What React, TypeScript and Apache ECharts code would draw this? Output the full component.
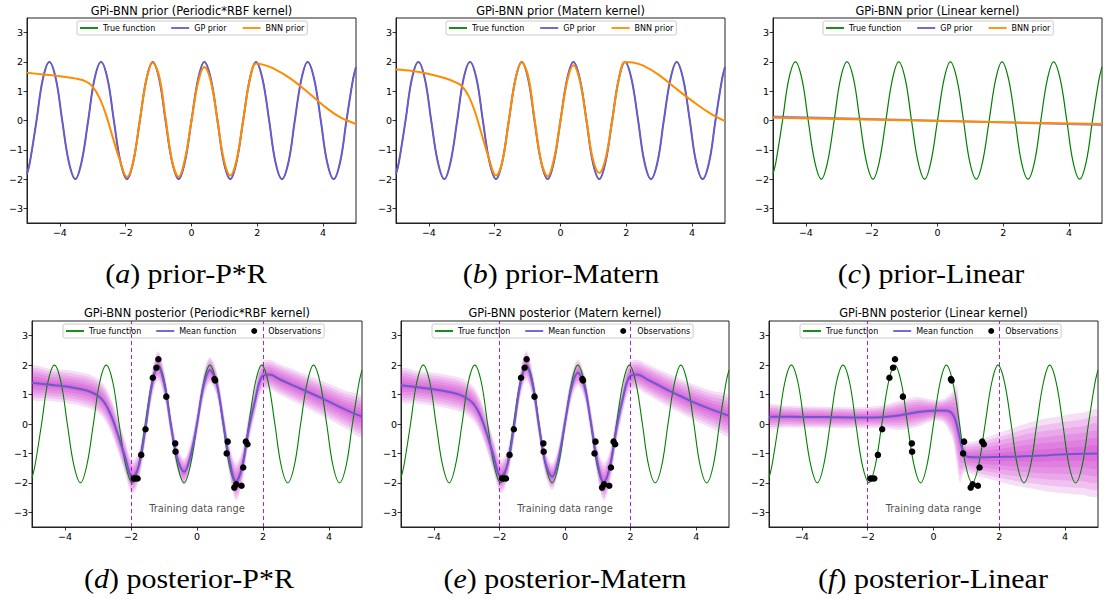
import React, { useEffect, useRef } from 'react';
import * as echarts from 'echarts';

// ---------- tick labels ----------
const xTicks = [-4, -2, 0, 2, 4];
const yTicks = [-3, -2, -1, 0, 1, 2, 3];

// ---------- true function ----------
const trueFunction = [
  [-5, -1.83], [-4.91, -1.41], [-4.71, 0], [-4.52, 1.41], [-4.32, 2], [-4.12, 1.41], [-3.93, 0], [-3.73, -1.41],
  [-3.53, -2], [-3.34, -1.41], [-3.14, 0], [-2.95, 1.41], [-2.75, 2], [-2.55, 1.41], [-2.36, 0], [-2.16, -1.41],
  [-1.96, -2], [-1.77, -1.41], [-1.57, 0], [-1.37, 1.41], [-1.18, 2], [-0.98, 1.41], [-0.79, 0], [-0.59, -1.41],
  [-0.39, -2], [-0.2, -1.41], [0, 0], [0.2, 1.41], [0.39, 2], [0.59, 1.41], [0.79, 0], [0.98, -1.41],
  [1.18, -2], [1.37, -1.41], [1.57, 0], [1.77, 1.41], [1.96, 2], [2.16, 1.41], [2.36, 0], [2.55, -1.41],
  [2.75, -2], [2.95, -1.41], [3.14, 0], [3.34, 1.41], [3.53, 2], [3.73, 1.41], [3.93, 0], [4.12, -1.41],
  [4.32, -2], [4.52, -1.41], [4.71, 0], [4.91, 1.41], [5, 1.83],
];

// GP prior samples for the periodic*RBF and Matern kernels (they sit on the true function)
const gpPriorPeriodic = trueFunction;
const gpPriorMatern = trueFunction;
const gpPriorLinear = [[-5, 0.14], [5, -0.15]];

// BNN priors
const bnnPriorPR = [
  [-5, 1.63], [-4.5, 1.57], [-4, 1.51], [-3.5, 1.43], [-3.2, 1.33], [-3, 1.15], [-2.8, 0.78], [-2.6, 0.2],
  [-2.4, -0.55], [-2.2, -1.28], [-1.96, -1.93], [-1.77, -1.4], [-1.57, 0], [-1.37, 1.4], [-1.18, 1.97],
  [-0.98, 1.5], [-0.79, 0.1], [-0.59, -1.38], [-0.39, -1.92], [-0.2, -1.32], [0, 0], [0.2, 1.3], [0.39, 1.83],
  [0.59, 1.32], [0.79, 0], [0.98, -1.32], [1.18, -1.88], [1.37, -1.35], [1.57, 0], [1.77, 1.38], [1.96, 1.95],
  [2.2, 1.9], [2.5, 1.77], [3, 1.44], [3.5, 1.0], [4, 0.52], [4.5, 0.12], [5, -0.12],
];
const bnnPriorMatern = [
  [-5, 1.74], [-4.5, 1.69], [-4, 1.59], [-3.5, 1.44], [-3.2, 1.31], [-3, 1.18], [-2.8, 0.85], [-2.6, 0.3],
  [-2.4, -0.45], [-2.2, -1.2], [-1.96, -1.88], [-1.77, -1.42], [-1.57, 0], [-1.37, 1.4], [-1.18, 1.98],
  [-0.98, 1.5], [-0.79, 0.05], [-0.59, -1.38], [-0.39, -1.9], [-0.2, -1.32], [0, 0], [0.2, 1.33], [0.39, 1.89],
  [0.59, 1.35], [0.79, 0], [0.98, -1.3], [1.18, -1.79], [1.37, -1.3], [1.57, 0], [1.77, 1.4], [1.96, 2.0],
  [2.2, 1.98], [2.5, 1.88], [3, 1.55], [3.5, 1.1], [4, 0.67], [4.5, 0.28], [5, -0.02],
];
const bnnPriorLinear = [[-5, 0.09], [5, -0.12]];

// ---------- posteriors ----------
const trainingRange = [-2, 2];
const observations = [
  [-1.92, -1.85], [-1.87, -1.85], [-1.8, -1.85], [-1.69, -1.05], [-1.56, -0.18], [-1.34, 1.57], [-1.23, 1.91],
  [-1.17, 2.2], [-0.93, 0.93], [-0.66, -0.66], [-0.65, -0.94], [0.53, 1.53], [0.55, 1.48], [0.93, -0.6],
  [0.9, -1.0], [1.13, -2.16], [1.19, -2.05], [1.35, -2.1], [1.4, -1.48], [1.48, -0.6], [1.53, -0.69],
];

const xsPost = [-5, -4.5, -4, -3.5, -3.2, -3, -2.8, -2.6, -2.4, -2.2, -1.96, -1.77, -1.57, -1.37, -1.18, -0.98,
  -0.79, -0.59, -0.39, -0.2, 0, 0.2, 0.39, 0.59, 0.79, 0.98, 1.18, 1.37, 1.57, 1.77, 1.96, 2.2, 2.5, 3, 3.5, 4, 4.5, 5];
const meanPR = [1.4, 1.34, 1.28, 1.18, 1.08, 0.96, 0.72, 0.28, -0.35, -1.05, -1.8, -1.45, -0.2, 1.3, 1.97, 1.3,
  -0.05, -1.2, -1.62, -1.1, 0.0, 1.3, 1.83, 1.4, 0.1, -1.2, -1.95, -1.45, -0.15, 0.85, 1.6, 1.68, 1.52, 1.27, 1.02, 0.76, 0.49, 0.25];
const hwPR = [0.55, 0.55, 0.56, 0.57, 0.58, 0.58, 0.58, 0.58, 0.57, 0.56, 0.58, 0.5, 0.45, 0.45, 0.5, 0.45,
  0.42, 0.42, 0.45, 0.42, 0.42, 0.42, 0.45, 0.42, 0.45, 0.5, 0.65, 0.55, 0.48, 0.48, 0.5, 0.5, 0.52, 0.55, 0.58, 0.61, 0.64, 0.67];
const meanMatern = [1.32, 1.25, 1.18, 1.08, 0.99, 0.88, 0.7, 0.33, -0.27, -1.0, -1.78, -1.45, -0.2, 1.3, 1.98, 1.3,
  -0.1, -1.35, -1.79, -1.2, 0.05, 1.25, 1.74, 1.3, 0.05, -1.25, -1.97, -1.45, -0.15, 0.9, 1.6, 1.68, 1.52, 1.23, 0.96, 0.7, 0.48, 0.28];
const hwMatern = [0.55, 0.55, 0.56, 0.57, 0.58, 0.58, 0.58, 0.58, 0.57, 0.56, 0.58, 0.5, 0.45, 0.45, 0.5, 0.45,
  0.42, 0.42, 0.45, 0.42, 0.42, 0.42, 0.45, 0.42, 0.45, 0.5, 0.65, 0.55, 0.48, 0.48, 0.5, 0.5, 0.52, 0.55, 0.58, 0.61, 0.64, 0.67];

const xsLinear = [-5, -4.5, -4, -3.5, -3, -2.5, -2, -1.5, -1, -0.5, 0, 0.3, 0.5, 0.6, 0.65, 0.7, 0.75, 0.8, 0.85,
  0.9, 1.0, 1.2, 1.5, 2, 2.5, 3, 3.5, 4, 4.5, 5];
const meanLinear = [0.25, 0.25, 0.24, 0.24, 0.23, 0.22, 0.22, 0.24, 0.3, 0.4, 0.45, 0.46, 0.42, 0.3, 0.18, 0.0,
  -0.22, -0.48, -0.75, -0.95, -1.1, -1.13, -1.13, -1.12, -1.11, -1.09, -1.06, -1.03, -1.01, -1.0];
const upperLinear = [0.63, 0.62, 0.6, 0.59, 0.58, 0.57, 0.58, 0.65, 0.8, 0.92, 0.82, 0.85, 1.0, 1.15, 1.28, 1.32,
  1.0, 0.3, -0.3, -0.55, -0.62, -0.6, -0.5, -0.3, -0.1, 0.08, 0.2, 0.3, 0.38, 0.45];
const lowerLinear = [-0.12, -0.12, -0.13, -0.13, -0.14, -0.14, -0.14, -0.15, -0.2, -0.1, 0.1, 0.05, -0.3, -0.6,
  -0.9, -1.3, -1.7, -2.0, -1.9, -1.7, -1.62, -1.72, -1.82, -1.96, -2.1, -2.2, -2.3, -2.36, -2.4, -2.42];

// ---------- layout ----------
const panels = [
  { left: 27, top: 18, width: 329, height: 205 },
  { left: 396, top: 18, width: 329, height: 205 },
  { left: 773, top: 18, width: 329, height: 205 },
  { left: 32, top: 321, width: 330, height: 206 },
  { left: 401, top: 321, width: 328, height: 206 },
  { left: 769, top: 321, width: 329, height: 206 },
];
const titles = [
  'GPi-BNN prior (Periodic*RBF kernel)', 'GPi-BNN prior (Matern kernel)', 'GPi-BNN prior (Linear kernel)',
  'GPi-BNN posterior (Periodic*RBF kernel)', 'GPi-BNN posterior (Matern kernel)', 'GPi-BNN posterior (Linear kernel)',
];
const captions = [
  ['a', 'prior-P*R'], ['b', 'prior-Matern'], ['c', 'prior-Linear'],
  ['d', 'posterior-P*R'], ['e', 'posterior-Matern'], ['f', 'posterior-Linear'],
];
const captionX = [186, 561, 931, 189, 565, 933];

const GREEN = '#008000';
const SLATE = '#6a5acd';
const ORANGE = '#ff8c00';
const LINE_ICON = 'path://M0,0L20,0L20,2L0,2Z';
const N_LAYERS = 6;

function fmtTick(v: number) {
  return v < 0 ? '\u2212' + Math.abs(v) : String(v);
}

function bandSeries(gi: number, xs: number[], mean: number[], upper: number[], lower: number[]) {
  const layers: number[][] = [];
  for (let k = 1; k <= N_LAYERS; k++) layers.push([k, 0]);
  return {
    type: 'custom',
    name: 'band',
    xAxisIndex: gi,
    yAxisIndex: gi,
    clip: true,
    silent: true,
    z: 1,
    data: layers,
    renderItem: (params: any, api: any) => {
      const f = api.value(0) / N_LAYERS;
      const top = xs.map((x, i) => api.coord([x, mean[i] + (upper[i] - mean[i]) * f]));
      const bot = xs.map((x, i) => api.coord([x, mean[i] - (mean[i] - lower[i]) * f])).reverse();
      return {
        type: 'polygon',
        shape: { points: top.concat(bot), smooth: 0.35 },
        style: { fill: 'rgba(196,0,196,0.13)' },
      };
    },
  };
}

function lineSeries(gi: number, name: string, data: number[][], color: string, width: number, opacity = 1, z = 2) {
  return {
    type: 'line',
    name,
    xAxisIndex: gi,
    yAxisIndex: gi,
    data,
    color,
    smooth: 0.37,
    showSymbol: false,
    symbol: 'none',
    silent: true,
    z,
    lineStyle: { color, width, opacity },
  };
}

function buildOption() {
  const series: any[] = [];
  // priors
  const gps = [gpPriorPeriodic, gpPriorMatern, gpPriorLinear];
  const bnns = [bnnPriorPR, bnnPriorMatern, bnnPriorLinear];
  for (let i = 0; i < 3; i++) {
    series.push(lineSeries(i, 'True function', trueFunction, GREEN, 1.2, 1, 2));
    series.push(lineSeries(i, 'GP prior', gps[i], SLATE, 2, i === 2 ? 0.7 : 1, 3));
    series.push(lineSeries(i, 'BNN prior', bnns[i], ORANGE, 2, 1, 4));
  }
  // posteriors
  const post = [
    { xs: xsPost, mean: meanPR, upper: meanPR.map((m, i) => m + hwPR[i]), lower: meanPR.map((m, i) => m - hwPR[i]) },
    { xs: xsPost, mean: meanMatern, upper: meanMatern.map((m, i) => m + hwMatern[i]), lower: meanMatern.map((m, i) => m - hwMatern[i]) },
    { xs: xsLinear, mean: meanLinear, upper: upperLinear, lower: lowerLinear },
  ];
  post.forEach((p, j) => {
    const gi = 3 + j;
    series.push(bandSeries(gi, p.xs, p.mean, p.upper, p.lower));
    series.push(lineSeries(gi, 'True function', trueFunction, GREEN, 1.1, 1, 2));
    const meanS: any = lineSeries(gi, 'Mean function', p.xs.map((x, i) => [x, p.mean[i]]), SLATE, 2, 1, 3);
    meanS.markLine = {
      silent: true,
      symbol: ['none', 'none'],
      label: { show: false },
      lineStyle: { color: '#9400d3', type: [4, 3], width: 1, opacity: 0.85 },
      data: trainingRange.map((x) => ({ xAxis: x })),
    };
    series.push(meanS);
    series.push({
      type: 'scatter', name: 'Observations', xAxisIndex: gi, yAxisIndex: gi,
      data: observations, symbolSize: 6.5, color: '#000', itemStyle: { color: '#000', opacity: 1 }, silent: true, z: 5,
    });
    series.push({
      type: 'scatter', name: 'note', xAxisIndex: gi, yAxisIndex: gi, silent: true, z: 5,
      data: [[(trainingRange[0] + trainingRange[1]) / 2, -2.88]], symbolSize: 0,
      label: {
        show: true, position: 'inside', formatter: 'Training data range',
        fontSize: 9.8, fontFamily: 'DejaVu Sans', color: '#1a1a1a',
      },
    });
  });

  const legends = panels.map((p, i) => {
    const prior = i < 3;
    return {
      left: p.left + (prior ? 50 : 31),
      top: prior ? 21 : 324,
      orient: 'horizontal',
      selectedMode: false,
      data: prior
        ? [{ name: 'True function', icon: LINE_ICON }, { name: 'GP prior', icon: LINE_ICON }, { name: 'BNN prior', icon: LINE_ICON }]
        : [{ name: 'True function', icon: LINE_ICON }, { name: 'Mean function', icon: LINE_ICON }, { name: 'Observations', icon: 'circle' }],
      itemWidth: 18,
      itemHeight: 6,
      itemGap: prior ? 16 : 15,
      padding: [3, 3],
      borderColor: '#cccccc',
      borderWidth: 1,
      borderRadius: 2,
      backgroundColor: 'rgba(255,255,255,0.8)',
      textStyle: { fontSize: 8, fontFamily: 'DejaVu Sans', color: '#000' },
    };
  });

  const graphics: any[] = [];
  titles.forEach((t, i) => {
    const p = panels[i];
    graphics.push({
      type: 'text', x: p.left + p.width / 2, y: i < 3 ? 10.5 : 313, silent: true,
      style: {
        text: t, fill: '#000', fontSize: 11.4, fontFamily: 'DejaVu Sans',
        align: 'center', textAlign: 'center', verticalAlign: 'middle', textVerticalAlign: 'middle',
      },
    });
  });
  captions.forEach((c, i) => {
    graphics.push({
      type: 'text', x: captionX[i], y: i < 3 ? 273 : 578, scaleX: 1.07, silent: true,
      style: {
        text: '{n|(}{i|' + c[0] + '}{n|) ' + c[1] + '}',
        fill: '#000',
        align: 'center', textAlign: 'center', verticalAlign: 'middle', textVerticalAlign: 'middle',
        rich: {
          n: { fontSize: 28, fontFamily: 'Liberation Serif', fill: '#000' },
          i: { fontSize: 28, fontFamily: 'Liberation Serif', fontStyle: 'italic', fill: '#000' },
        },
      },
    });
  });

  return {
    animation: false,
    backgroundColor: '#ffffff',
    grid: panels.map((p) => ({
      left: p.left, top: p.top, width: p.width, height: p.height,
      show: true, borderColor: '#222', borderWidth: 1, backgroundColor: 'transparent',
    })),
    xAxis: panels.map((p, i) => ({
      type: 'value', gridIndex: i, min: -5, max: 5,
      axisLine: { show: true, onZero: false, lineStyle: { color: '#222', width: 1 } },
      axisTick: { show: true, length: 3.5, customValues: xTicks, lineStyle: { color: '#000', width: 0.8 } },
      axisLabel: { customValues: xTicks, formatter: fmtTick, fontSize: 9.5, fontFamily: 'DejaVu Sans', color: '#000', margin: 4 },
      splitLine: { show: false },
    })),
    yAxis: panels.map((p, i) => ({
      type: 'value', gridIndex: i, min: -3.5, max: 3.5,
      axisLine: { show: true, onZero: false, lineStyle: { color: '#222', width: 1 } },
      axisTick: { show: true, length: 3.5, customValues: yTicks, lineStyle: { color: '#000', width: 0.8 } },
      axisLabel: { customValues: yTicks, formatter: fmtTick, fontSize: 9.5, fontFamily: 'DejaVu Sans', color: '#000', margin: 4 },
      splitLine: { show: false },
    })),
    legend: legends,
    series,
    graphic: { elements: graphics },
  };
}

export default function App() {
  const ref = useRef<HTMLDivElement>(null);
  useEffect(() => {
    if (!ref.current) return;
    const chart = echarts.init(ref.current, null, { renderer: 'svg', width: 1106, height: 599 });
    chart.setOption(buildOption() as any);
    return () => chart.dispose();
  }, []);
  return (
    <div
      ref={ref}
      style={{ position: 'fixed', left: 0, top: 0, width: 1106, height: 599, background: '#fff' }}
    />
  );
}
